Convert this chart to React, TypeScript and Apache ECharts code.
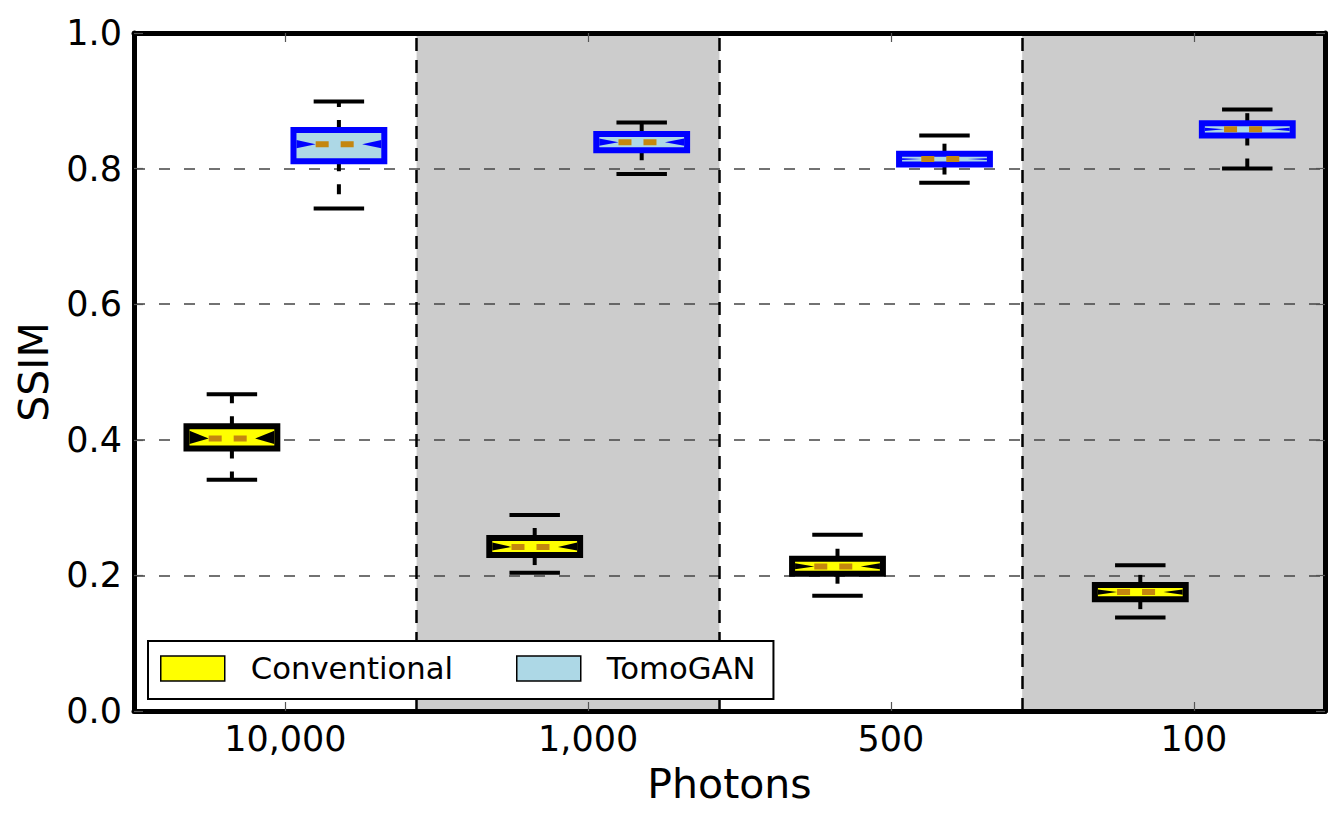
import React, { useEffect, useRef } from "react";
import * as echarts from "echarts";

// Photon-count groups and where their tick sits on the x scale
const categories = ["10,000", "1,000", "500", "100"];
const tickPositions = [1.5, 4.5, 7.5, 10.5];

// Conventional reconstruction: box-plot statistics per photon count
const convLow = [0.341, 0.204, 0.17, 0.138];
const convQ1 = [0.387, 0.23, 0.2025, 0.165];
const convMedian = [0.402, 0.242, 0.213, 0.1755];
const convQ3 = [0.42, 0.255, 0.2245, 0.186];
const convHigh = [0.467, 0.289, 0.26, 0.215];
const convNotch = [0.012, 0.03, 0.03, 0.03];

// TomoGAN: box-plot statistics per photon count
const tomoLow = [0.741, 0.792, 0.779, 0.8];
const tomoQ1 = [0.811, 0.827, 0.806, 0.849];
const tomoMedian = [0.836, 0.839, 0.814, 0.858];
const tomoQ3 = [0.857, 0.851, 0.822, 0.867];
const tomoHigh = [0.899, 0.868, 0.849, 0.887];
const tomoNotch = [0.006, 0.03, 0.03, 0.03];

// Shaded background bands and dashed dividers between groups
const bandStarts = [2.8, 8.8];
const bandEnds = [5.8, 11.8];
const dividers = [2.8, 5.8, 8.8];

const X_MAX = 11.8;
const GROUP_OFFSET = 0.53;
const FONT = "DejaVu Sans";

const buildRows = (
  offset: number,
  low: number[],
  q1: number[],
  med: number[],
  q3: number[],
  high: number[],
  notch: number[]
) =>
  tickPositions.map((t, i) => [t + offset, low[i], q1[i], med[i], q3[i], high[i], notch[i]]);

const makeBoxRenderer = (fill: string, edge: string) => (params: any, api: any) => {
  const x = api.value(0);
  const low = api.value(1);
  const q1 = api.value(2);
  const med = api.value(3);
  const q3 = api.value(4);
  const high = api.value(5);
  const notch = api.value(6);
  const [cx, yLow] = api.coord([x, low]);
  const yQ1 = api.coord([x, q1])[1];
  const yMed = api.coord([x, med])[1];
  const yQ3 = api.coord([x, q3])[1];
  const yHigh = api.coord([x, high])[1];
  const yNotchHi = api.coord([x, med + notch])[1];
  const yNotchLo = api.coord([x, med - notch])[1];
  const unit = api.size([1, 0])[0];
  const halfBox = 0.45 * unit;
  const capHalf = 0.25 * unit;
  const tip = 0.23 * unit;
  const border = 6;
  const innerTop = yQ3 + border / 2 + 1.5;
  const innerBottom = yQ1 - border / 2 - 1.5;
  const baseTop = Math.max(yNotchHi, innerTop);
  const baseBottom = Math.min(yNotchLo, innerBottom);
  const xL = cx - halfBox + border / 2;
  const xR = cx + halfBox - border / 2;
  const whisker = { stroke: "#000", lineWidth: 4, lineDash: [10, 13] };
  const cap = { stroke: "#000", lineWidth: 4 };
  return {
    type: "group",
    children: [
      { type: "line", shape: { x1: cx, y1: yQ1, x2: cx, y2: yLow }, style: whisker },
      { type: "line", shape: { x1: cx, y1: yQ3, x2: cx, y2: yHigh }, style: whisker },
      { type: "line", shape: { x1: cx - capHalf, y1: yLow, x2: cx + capHalf, y2: yLow }, style: cap },
      { type: "line", shape: { x1: cx - capHalf, y1: yHigh, x2: cx + capHalf, y2: yHigh }, style: cap },
      {
        type: "rect",
        shape: { x: cx - halfBox, y: yQ3, width: 2 * halfBox, height: yQ1 - yQ3 },
        style: { fill, stroke: edge, lineWidth: border },
      },
      {
        type: "polygon",
        shape: { points: [[xL, baseTop], [cx - tip, yMed], [xL, baseBottom]] },
        style: { fill: edge },
      },
      {
        type: "polygon",
        shape: { points: [[xR, baseTop], [cx + tip, yMed], [xR, baseBottom]] },
        style: { fill: edge },
      },
      {
        type: "line",
        shape: { x1: cx - tip, y1: yMed, x2: cx + tip, y2: yMed },
        style: { stroke: "#C4870F", lineWidth: 6, lineDash: [13, 12] },
      },
    ],
  };
};

export default function App() {
  const ref = useRef<HTMLDivElement>(null);

  useEffect(() => {
    document.body.style.margin = "0";
    if (!ref.current) return;
    const chart = echarts.init(ref.current, undefined, { renderer: "svg" });

    const convRows = buildRows(-GROUP_OFFSET, convLow, convQ1, convMedian, convQ3, convHigh, convNotch);
    const tomoRows = buildRows(GROUP_OFFSET, tomoLow, tomoQ1, tomoMedian, tomoQ3, tomoHigh, tomoNotch);
    const bandRows = bandStarts.map((s, i) => [s, bandEnds[i]]);

    const tickStyle = { show: true, inside: true, length: 9, lineStyle: { color: "#555", width: 1.2 } };
    const spine = { show: true, onZero: false, lineStyle: { color: "#000", width: 5 } };

    chart.setOption({
      animation: false,
      backgroundColor: "#fff",
      grid: { left: 134, right: 12, top: 33, bottom: 112 },
      legend: {
        left: 148,
        top: 641,
        orient: "horizontal",
        backgroundColor: "#fff",
        borderColor: "#000",
        borderWidth: 2,
        borderRadius: 0,
        padding: [12, 18, 15, 12],
        itemWidth: 64,
        itemHeight: 25,
        itemGap: 63,
        icon: "rect",
        textStyle: { fontFamily: FONT, fontSize: 30.7, color: "#000", padding: [0, 0, 0, 21] },
        data: [
          { name: "Conventional", itemStyle: { color: "#FFFF00", borderColor: "#000", borderWidth: 1.5 } },
          { name: "TomoGAN", itemStyle: { color: "#ADD8E6", borderColor: "#000", borderWidth: 1.5 } },
        ],
        selectedMode: false,
        z: 20,
      },
      xAxis: [
        {
          type: "value",
          position: "bottom",
          min: 0,
          max: X_MAX,
          name: "Photons",
          nameLocation: "middle",
          nameGap: 52,
          nameTextStyle: { fontFamily: FONT, fontSize: 41, color: "#000" },
          axisLine: spine,
          axisTick: { ...tickStyle, customValues: tickPositions },
          axisLabel: {
            customValues: tickPositions,
            formatter: (v: number) => categories[tickPositions.indexOf(v)] ?? "",
            fontFamily: FONT,
            fontSize: 35,
            color: "#000",
            margin: 10,
          },
          splitLine: { show: false },
        },
        {
          type: "value",
          position: "top",
          min: 0,
          max: X_MAX,
          axisLine: spine,
          axisTick: { ...tickStyle, customValues: tickPositions },
          axisLabel: { show: false },
          splitLine: { show: false },
        },
      ],
      yAxis: [
        {
          type: "value",
          position: "left",
          min: 0,
          max: 1,
          interval: 0.2,
          name: "SSIM",
          nameLocation: "middle",
          nameGap: 80,
          nameTextStyle: { fontFamily: FONT, fontSize: 41, color: "#000" },
          axisLine: spine,
          axisTick: tickStyle,
          axisLabel: {
            formatter: (v: number) => v.toFixed(1),
            fontFamily: FONT,
            fontSize: 35,
            color: "#000",
            margin: 12,
          },
          splitLine: { show: true, lineStyle: { color: "#444", width: 1.5, type: [11, 14] } },
        },
        {
          type: "value",
          position: "right",
          min: 0,
          max: 1,
          interval: 0.2,
          axisLine: spine,
          axisTick: tickStyle,
          axisLabel: { show: false },
          splitLine: { show: false },
        },
      ],
      series: [
        {
          name: "bands",
          type: "custom",
          z: -1,
          silent: true,
          clip: true,
          data: bandRows,
          encode: { x: [0, 1] },
          renderItem: (params: any, api: any) => {
            const [x0, yTop] = api.coord([api.value(0), 1]);
            const [x1, yBottom] = api.coord([api.value(1), 0]);
            return {
              type: "rect",
              shape: { x: x0, y: yTop, width: x1 - x0, height: yBottom - yTop },
              style: { fill: "#CCCCCC" },
            };
          },
          markLine: {
            silent: true,
            symbol: "none",
            label: { show: false },
            lineStyle: { color: "#000", width: 2.5, type: [13, 9] },
            data: dividers.map((d) => ({ xAxis: d })),
          },
        },
        {
          name: "Conventional",
          type: "custom",
          itemStyle: { color: "#FFFF00", borderColor: "#000" },
          clip: false,
          data: convRows,
          encode: { x: 0, y: [1, 2, 3, 4, 5] },
          renderItem: makeBoxRenderer("#FFFF00", "#000000"),
        },
        {
          name: "TomoGAN",
          type: "custom",
          itemStyle: { color: "#ADD8E6", borderColor: "#000" },
          clip: false,
          data: tomoRows,
          encode: { x: 0, y: [1, 2, 3, 4, 5] },
          renderItem: makeBoxRenderer("#ADD8E6", "#0000FF"),
        },
      ],
    });

    return () => chart.dispose();
  }, []);

  return <div ref={ref} style={{ width: 1337, height: 823 }} />;
}
